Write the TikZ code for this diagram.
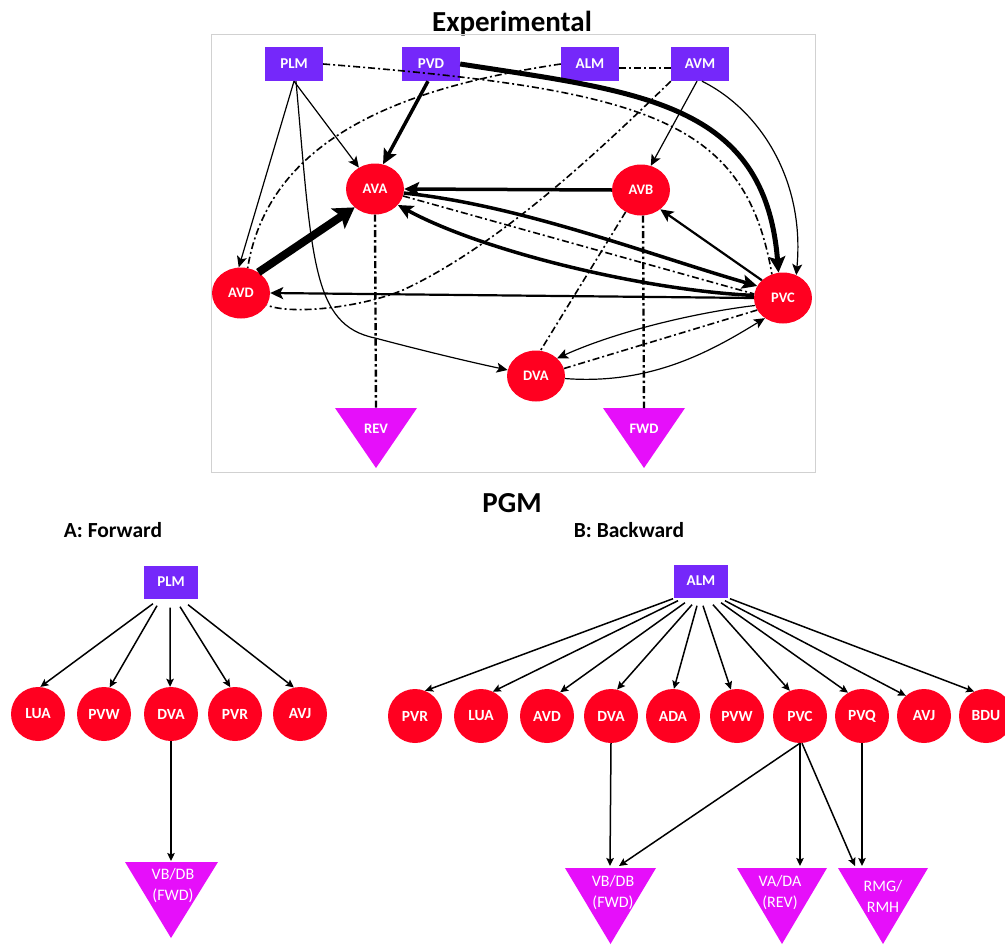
\documentclass[tikz,border=0pt]{standalone}
\usepackage{fontspec}
\setmainfont{Carlito}
\usetikzlibrary{arrows.meta,shapes.geometric}
\definecolor{nred}{RGB}{255,0,32}
\definecolor{npur}{RGB}{117,40,250}
\definecolor{nmag}{RGB}{230,15,250}
\begin{document}
\begin{tikzpicture}[x=1pt,y=-1pt,
  rectn/.style={fill=npur,minimum width=58pt,minimum height=34pt,inner sep=0pt,text=white,font=\fontsize{15}{15}\selectfont\bfseries},
  rectb/.style={rectn,minimum width=54pt,minimum height=33pt},
  ell/.style={ellipse,fill=nred,minimum width=58pt,minimum height=51pt,inner sep=0pt,text=white,font=\fontsize{14.5}{15}\selectfont\bfseries},
  circ/.style={circle,fill=nred,minimum size=54pt,inner sep=0pt,text=white,font=\fontsize{15.5}{15}\selectfont\bfseries},
  toptri/.style={text=white,font=\fontsize{14.5}{15}\selectfont\bfseries},
  bottri/.style={text=white,font=\fontsize{16}{21}\selectfont,align=center},
  title/.style={anchor=base,font=\fontsize{29}{30}\selectfont\bfseries},
  subtitle/.style={anchor=base,font=\fontsize{21.5}{22}\selectfont\bfseries},
  thinarr/.style={line width=1.2pt,-{Stealth[inset=2.5pt,length=11pt,width=10pt]}},
  medarr/.style={line width=2.2pt,-{Stealth[inset=3pt,length=13pt,width=12pt]}},
  thickarr/.style={line width=3.5pt,-{Stealth[inset=3pt,length=15pt,width=14pt]}},
  hugearr/.style={line width=8pt,-{Stealth[inset=4pt,length=20pt,width=24pt]}},
  dashdot/.style={line width=1.6pt,dash pattern=on 7pt off 3pt on 2pt off 3pt},
  vdashdot/.style={line width=2.4pt,dash pattern=on 7pt off 3pt on 2.5pt off 3pt},
  barr/.style={line width=1.5pt,-{Stealth[inset=1.5pt,length=8pt,width=7.5pt]}}
]
\useasboundingbox (0,0) rectangle (1005,945);

% ---------------- Experimental ----------------
\node[title] (t1) at (512,31) {Experimental};
\draw[black!18,line width=1pt] (211,34) rectangle (815,472);

\node[rectn] (plm) at (294,64) {PLM};
\node[rectn] (pvd) at (431,64) {PVD};
\node[rectn] (alm) at (590,64) {ALM};
\node[rectn] (avm) at (700,64) {AVM};

\node[ell] (ava) at (375,189) {AVA};
\node[ell] (avb) at (641,190) {AVB};
\node[ell] (avd) at (241,293) {AVD};
\node[ell] (pvc) at (783,298) {PVC};
\node[ell] (dva) at (536,376) {DVA};

\fill[nmag] (335,408) -- (417,408) -- (376,468) -- cycle;
\coordinate (revtop) at (376,408);
\node[toptri] (rev) at (376,429) {REV};
\fill[nmag] (603,408) -- (685,408) -- (644,468) -- cycle;
\coordinate (fwdtop) at (644,408);
\node[toptri] (fwd) at (644,429) {FWD};

% dash-dot / dashed connectors
\draw[dashdot] (plm.east) .. controls (650,90) and (745,120) .. (pvc.115);
\draw[dashdot] ([yshift=-4pt]alm.east) -- ([yshift=-4pt]avm.west);
\draw[dashdot] (alm.west) .. controls (420,85) and (270,130) .. (avd.75);
\draw[dashdot] (avm.south west) .. controls (600,150) and (500,245) .. (403,290)
   .. controls (360,308) and (290,315) .. (avd.-25);
\draw[dashdot] (avb.235) -- (dva.80);
\draw[dashdot] (ava.-14) -- (pvc.172);
\draw[dashdot] (dva.15) -- (pvc.205);
\draw[vdashdot] (ava.south) -- (revtop);
\draw[vdashdot] ([xshift=2pt]avb.south) -- (fwdtop);

% solid connectors
\draw[thinarr] (plm.south) -- (ava);
\draw[thinarr] (plm.south) -- (avd.95);
\draw[thinarr] ([xshift=2pt]plm.south) .. controls (312,260) and (312,325) .. (375,338)
   .. controls (420,350) and (470,362) .. (dva.168);
\draw[thickarr] ([xshift=-3pt]pvd.south) -- (ava.72);
\draw[line width=5pt,-{Stealth[inset=3pt,length=16pt,width=16pt]}] (pvd.east) .. controls (640,92) and (765,102) .. (pvc.100);
\draw[thinarr] ([xshift=-3pt]avm.south) -- (avb.68);
\draw[thinarr] ([xshift=2pt]avm.south) .. controls (760,110) and (805,180) .. (pvc.60);
\draw[thickarr] (avb.west) -- (ava.east);
\draw[thickarr] (ava.-8) .. controls (520,205) and (650,255) .. (pvc.155);
\draw[thickarr] (pvc.175) .. controls (640,290) and (480,250) .. (ava.-35);
\draw[medarr] (pvc.140) -- (avb.-45);
\draw[medarr] (pvc.west) -- (avd.east);
\draw[thinarr] (pvc.195) .. controls (700,312) and (620,330) .. (dva.40);
\draw[thinarr] (dva.-5) .. controls (650,385) and (710,352) .. (pvc.228);
\draw[hugearr] (avd.50) -- (ava.222);

% ---------------- PGM ----------------
\node[title] (t2) at (512,512) {PGM};
\node[subtitle] (ta) at (113,537) {A: Forward};
\node[subtitle] (tb) at (629,537) {B: Backward};

% A: Forward
\node[rectb] (plmA) at (171,582) {PLM};
\node[circ] (luaA) at (38,714) {LUA};
\node[circ] (pvwA) at (104,714) {PVW};
\node[circ] (dvaA) at (171,714) {DVA};
\node[circ] (pvrA) at (235,714) {PVR};
\node[circ] (avjA) at (300,714) {AVJ};
\fill[nmag] (125,862) -- (218,862) -- (171,938) -- cycle;
\coordinate (vbA) at (171,862);
\node[bottri] (vbAl) at (173,886) {VB/DB\\(FWD)};

\draw[barr] ([xshift=-18pt,yshift=-5pt]plmA.south) -- (luaA.85);
\draw[barr] ([xshift=-14pt,yshift=-7pt]plmA.south) -- (pvwA.78);
\draw[barr] ([xshift=-1pt,yshift=-9pt]plmA.south) -- (dvaA.92);
\draw[barr] ([xshift=9pt,yshift=-8pt]plmA.south) -- (pvrA.100);
\draw[barr] ([xshift=17pt,yshift=-6pt]plmA.south) -- (avjA.103);
\draw[barr] (dvaA.south) -- ([yshift=1pt]vbA);

% B: Backward
\node[rectb] (almB) at (701,581) {ALM};
\node[circ] (pvrB) at (415,716) {PVR};
\node[circ] (luaB) at (481,716) {LUA};
\node[circ] (avdB) at (547,716) {AVD};
\node[circ] (dvaB) at (611,716) {DVA};
\node[circ] (adaB) at (673,716) {ADA};
\node[circ] (pvwB) at (737,716) {PVW};
\node[circ] (pvcB) at (800,716) {PVC};
\node[circ] (pvqB) at (862,716) {PVQ};
\node[circ] (avjB) at (924,716) {AVJ};
\node[circ] (bduB) at (986,716) {BDU};

\fill[nmag] (565,868) -- (656,868) -- (610.5,944) -- cycle;
\coordinate (vbB) at (610,868);
\node[bottri] (vbBl) at (613,893) {VB/DB\\(FWD)};
\fill[nmag] (737,868) -- (827,868) -- (782,944) -- cycle;
\coordinate (vaB) at (782,868);
\node[bottri] (vaBl) at (780,893) {VA/DA\\(REV)};
\fill[nmag] (838,868) -- (928,868) -- (883,944) -- cycle;
\coordinate (rmB) at (883,868);
\node[bottri] (rmBl) at (883,896) {RMG/\\RMH};

\draw[barr] ([xshift=-28pt,yshift=-1pt]almB.south) -- (pvrB.68);
\draw[barr] ([xshift=-23pt,yshift=-3pt]almB.south) -- (luaB.64);
\draw[barr] ([xshift=-16pt,yshift=-5pt]almB.south) -- (avdB.61);
\draw[barr] ([xshift=-9pt,yshift=-7pt]almB.south) -- (dvaB.77);
\draw[barr] ([xshift=-4pt,yshift=-8pt]almB.south) -- (adaB.88);
\draw[barr] ([xshift=2pt,yshift=-8pt]almB.south) -- (pvwB.103);
\draw[barr] ([xshift=12pt,yshift=-7pt]almB.south) -- (pvcB.112);
\draw[barr] ([xshift=20pt,yshift=-5pt]almB.south) -- (pvqB.121);
\draw[barr] ([xshift=24pt,yshift=-3pt]almB.south) -- (avjB.132);
\draw[barr] ([xshift=29pt,yshift=-1pt]almB.south) -- (bduB.116);

\draw[barr] (dvaB.south) -- ([yshift=2pt]vbB);
\draw[barr] (pvcB.south) -- ([xshift=9pt,yshift=2pt]vbB);
\draw[barr] (pvcB.south) -- ([xshift=18pt,yshift=2pt]vaB);
\draw[barr] ([xshift=2pt]pvcB.south) -- ([xshift=-28pt,yshift=2pt]rmB);
\draw[barr] (pvqB.south) -- ([xshift=-21pt,yshift=2pt]rmB);
\end{tikzpicture}
\end{document}
